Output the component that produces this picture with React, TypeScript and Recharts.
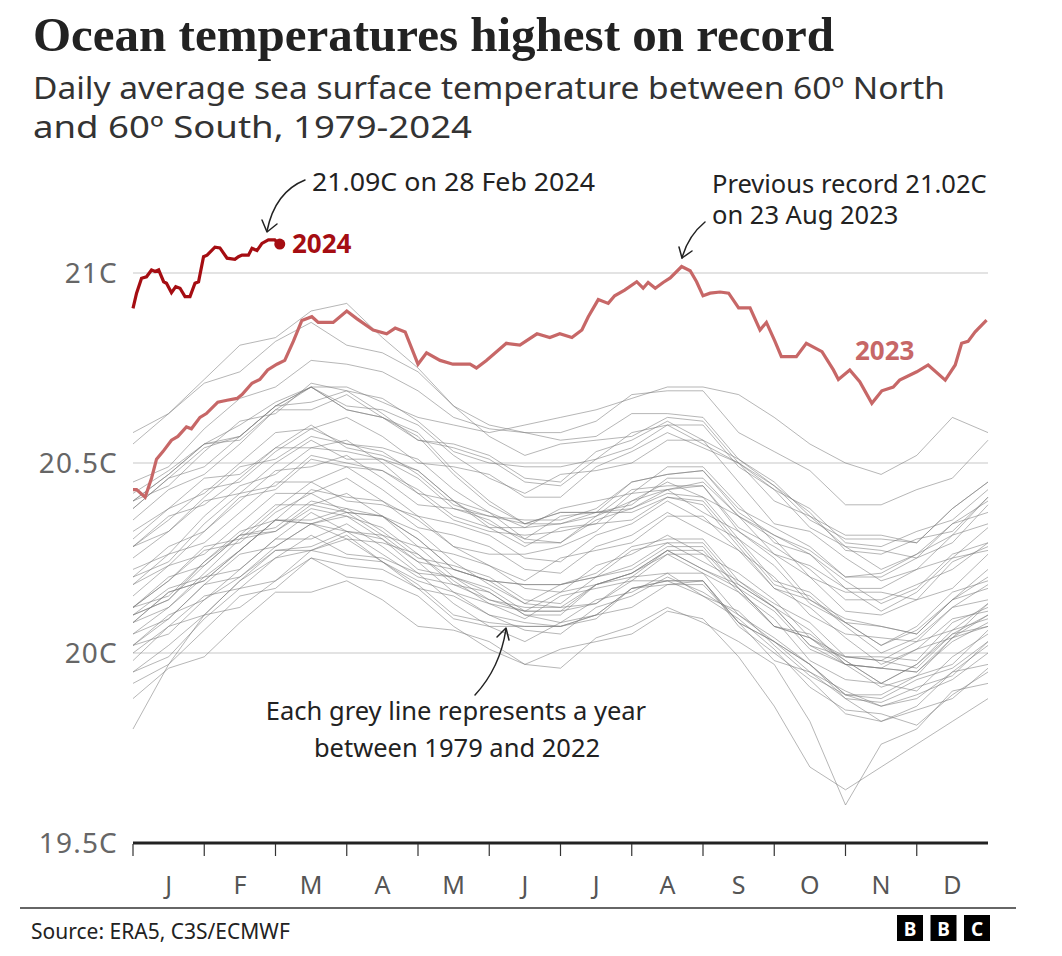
import { LineChart, Line, XAxis, YAxis, ReferenceLine, ReferenceDot } from "recharts";

const SANS = "'Noto Sans', sans-serif";
const SERIF = "'Liberation Serif', serif";

const MONTH_LABELS = ["J", "F", "M", "A", "M", "J", "J", "A", "S", "O", "N", "D"];
const Y_TICKS = [19.5, 20, 20.5, 21];
const GRID_VALUES = [20, 20.5, 21];
// tick lines sit on whole months, letters sit mid-month
const X_TICKS = [0, 0.5, 1, 1.5, 2, 2.5, 3, 3.5, 4, 4.5, 5, 5.5, 6, 6.5, 7, 7.5, 8, 8.5, 9, 9.5, 10, 10.5, 11, 11.5];

// grey years, sampled twice a month (position in months from 1 Jan)
const GREY_MONTHS = [0, 0.5, 1, 1.5, 2, 2.5, 3, 3.5, 4, 4.5, 5, 5.5, 6, 6.5, 7, 7.5, 8, 8.5, 9, 9.5, 10, 10.5, 11, 11.5, 12];
const Y1979 = [19.80, 19.97, 20.10, 20.19, 20.25, 20.27, 20.30, 20.24, 20.17, 20.15, 20.10, 20.06, 20.05, 20.12, 20.15, 20.20, 20.16, 20.10, 20.03, 19.95, 19.90, 19.86, 19.88, 19.95, 20.02];
const Y1980 = [20.02, 20.05, 20.14, 20.20, 20.27, 20.27, 20.31, 20.24, 20.19, 20.16, 20.10, 20.08, 20.07, 20.10, 20.17, 20.19, 20.15, 20.11, 20.02, 19.94, 19.89, 19.86, 19.89, 19.93, 20.00];
const Y1981 = [20.00, 20.07, 20.15, 20.17, 20.25, 20.31, 20.26, 20.25, 20.21, 20.13, 20.07, 20.03, 20.08, 20.10, 20.12, 20.18, 20.18, 20.08, 19.98, 19.95, 19.88, 19.82, 19.86, 19.95, 19.97];
const Y1982 = [19.98, 20.07, 20.10, 20.19, 20.27, 20.28, 20.32, 20.26, 20.20, 20.18, 20.16, 20.10, 20.10, 20.18, 20.21, 20.27, 20.22, 20.18, 20.12, 20.02, 19.99, 19.99, 19.98, 20.08, 20.12];
const Y1983 = [20.12, 20.15, 20.24, 20.31, 20.32, 20.38, 20.36, 20.33, 20.26, 20.18, 20.14, 20.12, 20.12, 20.13, 20.19, 20.19, 20.19, 20.07, 20.00, 19.93, 19.84, 19.82, 19.85, 19.88, 19.96];
const Y1984 = [19.95, 20.02, 20.10, 20.12, 20.19, 20.25, 20.20, 20.19, 20.15, 20.07, 20.01, 19.97, 20.01, 20.03, 20.05, 20.11, 20.09, 19.99, 19.86, 19.70, 19.64, 19.70, 19.76, 19.82, 19.88];
const Y1985 = [19.88, 19.96, 19.99, 20.08, 20.16, 20.16, 20.19, 20.14, 20.07, 20.06, 20.03, 19.97, 19.96, 20.04, 20.07, 20.12, 20.08, 20.03, 19.97, 19.82, 19.60, 19.76, 19.80, 19.90, 19.92];
const Y1986 = [19.92, 19.97, 20.06, 20.15, 20.17, 20.25, 20.23, 20.22, 20.17, 20.09, 20.07, 20.07, 20.07, 20.09, 20.17, 20.18, 20.19, 20.08, 20.03, 19.97, 19.89, 19.89, 19.94, 19.97, 20.06];
const Y1987 = [20.05, 20.12, 20.20, 20.22, 20.30, 20.37, 20.32, 20.31, 20.28, 20.20, 20.14, 20.11, 20.16, 20.18, 20.20, 20.27, 20.27, 20.17, 20.07, 20.05, 19.98, 19.92, 19.97, 20.06, 20.09];
const Y1988 = [20.10, 20.17, 20.20, 20.27, 20.35, 20.34, 20.36, 20.30, 20.22, 20.20, 20.16, 20.10, 20.08, 20.14, 20.16, 20.21, 20.15, 20.09, 20.01, 19.91, 19.85, 19.84, 19.81, 19.89, 19.95];
const Y1989 = [19.95, 19.99, 20.09, 20.17, 20.19, 20.27, 20.25, 20.24, 20.18, 20.10, 20.08, 20.07, 20.07, 20.10, 20.17, 20.19, 20.19, 20.08, 20.03, 19.97, 19.89, 19.88, 19.93, 19.96, 20.03];
const Y1990 = [20.02, 20.09, 20.18, 20.20, 20.28, 20.34, 20.30, 20.29, 20.26, 20.19, 20.13, 20.09, 20.15, 20.17, 20.19, 20.26, 20.26, 20.16, 20.07, 20.04, 19.98, 19.92, 19.97, 20.05, 20.07];
const Y1991 = [20.08, 20.16, 20.19, 20.27, 20.35, 20.34, 20.37, 20.31, 20.24, 20.22, 20.19, 20.13, 20.12, 20.18, 20.21, 20.26, 20.21, 20.16, 20.09, 19.98, 19.93, 19.92, 19.90, 19.99, 20.05];
const Y1992 = [20.05, 20.09, 20.18, 20.26, 20.28, 20.34, 20.32, 20.30, 20.24, 20.16, 20.13, 20.11, 20.11, 20.13, 20.20, 20.21, 20.21, 20.10, 20.04, 19.97, 19.88, 19.87, 19.91, 19.94, 20.03];
const Y1993 = [20.02, 20.10, 20.14, 20.22, 20.30, 20.30, 20.34, 20.28, 20.21, 20.20, 20.17, 20.11, 20.11, 20.18, 20.21, 20.27, 20.22, 20.17, 20.11, 20.01, 19.97, 19.96, 19.95, 20.03, 20.08];
const Y1994 = [20.08, 20.12, 20.21, 20.30, 20.32, 20.39, 20.37, 20.36, 20.30, 20.22, 20.19, 20.18, 20.18, 20.21, 20.28, 20.30, 20.30, 20.19, 20.13, 20.08, 19.99, 19.98, 20.03, 20.06, 20.13];
const Y1995 = [20.12, 20.19, 20.27, 20.29, 20.37, 20.42, 20.37, 20.36, 20.32, 20.24, 20.18, 20.13, 20.18, 20.20, 20.22, 20.28, 20.28, 20.17, 20.07, 20.04, 19.97, 19.91, 19.94, 20.04, 20.07];
const Y1996 = [20.08, 20.16, 20.19, 20.27, 20.35, 20.35, 20.38, 20.32, 20.25, 20.23, 20.20, 20.14, 20.13, 20.20, 20.23, 20.29, 20.24, 20.19, 20.12, 20.02, 19.97, 19.96, 19.95, 20.04, 20.10];
const Y1997 = [20.10, 20.14, 20.24, 20.32, 20.35, 20.43, 20.41, 20.40, 20.35, 20.28, 20.26, 20.26, 20.28, 20.32, 20.40, 20.43, 20.45, 20.36, 20.31, 20.27, 20.20, 20.21, 20.26, 20.31, 20.41];
const Y1998 = [20.40, 20.47, 20.55, 20.57, 20.65, 20.70, 20.64, 20.62, 20.58, 20.48, 20.40, 20.34, 20.37, 20.37, 20.37, 20.41, 20.39, 20.28, 20.17, 20.12, 20.04, 19.97, 20.01, 20.09, 20.11];
const Y1999 = [20.12, 20.20, 20.23, 20.31, 20.39, 20.39, 20.42, 20.36, 20.28, 20.26, 20.23, 20.17, 20.16, 20.23, 20.26, 20.31, 20.26, 20.21, 20.14, 20.04, 19.99, 19.98, 19.96, 20.05, 20.10];
const Y2000 = [20.10, 20.14, 20.23, 20.31, 20.33, 20.40, 20.38, 20.36, 20.30, 20.22, 20.19, 20.18, 20.18, 20.20, 20.27, 20.29, 20.29, 20.18, 20.12, 20.06, 19.97, 19.96, 20.01, 20.04, 20.13];
const Y2001 = [20.12, 20.19, 20.28, 20.30, 20.38, 20.45, 20.40, 20.39, 20.36, 20.28, 20.23, 20.19, 20.25, 20.27, 20.29, 20.36, 20.36, 20.27, 20.17, 20.14, 20.08, 20.02, 20.07, 20.16, 20.19];
const Y2002 = [20.20, 20.28, 20.32, 20.40, 20.48, 20.49, 20.52, 20.46, 20.39, 20.38, 20.35, 20.29, 20.29, 20.36, 20.40, 20.45, 20.41, 20.36, 20.30, 20.20, 20.16, 20.16, 20.14, 20.24, 20.28];
const Y2003 = [20.28, 20.32, 20.41, 20.49, 20.51, 20.57, 20.55, 20.53, 20.47, 20.39, 20.36, 20.34, 20.34, 20.36, 20.43, 20.44, 20.44, 20.32, 20.26, 20.20, 20.11, 20.10, 20.14, 20.17, 20.26];
const Y2004 = [20.25, 20.32, 20.40, 20.42, 20.50, 20.56, 20.51, 20.51, 20.48, 20.40, 20.34, 20.30, 20.36, 20.37, 20.39, 20.46, 20.46, 20.36, 20.26, 20.23, 20.17, 20.11, 20.16, 20.25, 20.27];
const Y2005 = [20.28, 20.36, 20.39, 20.46, 20.54, 20.54, 20.56, 20.50, 20.42, 20.40, 20.37, 20.30, 20.29, 20.35, 20.38, 20.43, 20.37, 20.32, 20.25, 20.14, 20.09, 20.07, 20.05, 20.14, 20.22];
const Y2006 = [20.22, 20.26, 20.36, 20.44, 20.47, 20.54, 20.53, 20.51, 20.46, 20.38, 20.36, 20.35, 20.35, 20.38, 20.45, 20.47, 20.48, 20.37, 20.31, 20.26, 20.17, 20.17, 20.22, 20.25, 20.33];
const Y2007 = [20.32, 20.38, 20.46, 20.47, 20.54, 20.60, 20.54, 20.52, 20.48, 20.40, 20.33, 20.28, 20.33, 20.34, 20.35, 20.41, 20.40, 20.29, 20.18, 20.15, 20.07, 20.00, 20.04, 20.12, 20.14];
const Y2008 = [20.15, 20.23, 20.26, 20.34, 20.42, 20.42, 20.46, 20.40, 20.33, 20.31, 20.28, 20.22, 20.21, 20.28, 20.31, 20.37, 20.32, 20.27, 20.20, 20.10, 20.05, 20.04, 20.03, 20.12, 20.18];
const Y2009 = [20.18, 20.23, 20.32, 20.41, 20.43, 20.51, 20.49, 20.48, 20.43, 20.36, 20.33, 20.33, 20.34, 20.37, 20.45, 20.47, 20.48, 20.38, 20.33, 20.28, 20.20, 20.20, 20.25, 20.29, 20.39];
const Y2010 = [20.38, 20.46, 20.54, 20.57, 20.65, 20.70, 20.64, 20.62, 20.57, 20.47, 20.39, 20.34, 20.37, 20.37, 20.38, 20.42, 20.41, 20.30, 20.19, 20.16, 20.08, 20.02, 20.06, 20.14, 20.17];
const Y2011 = [20.18, 20.26, 20.29, 20.37, 20.45, 20.45, 20.49, 20.43, 20.36, 20.34, 20.31, 20.25, 20.24, 20.31, 20.34, 20.40, 20.35, 20.30, 20.23, 20.13, 20.08, 20.07, 20.05, 20.14, 20.20];
const Y2012 = [20.20, 20.24, 20.34, 20.42, 20.44, 20.52, 20.50, 20.48, 20.42, 20.35, 20.32, 20.31, 20.32, 20.34, 20.42, 20.43, 20.44, 20.33, 20.28, 20.22, 20.14, 20.14, 20.18, 20.22, 20.29];
const Y2013 = [20.28, 20.35, 20.43, 20.45, 20.53, 20.59, 20.55, 20.54, 20.51, 20.43, 20.37, 20.33, 20.38, 20.40, 20.42, 20.49, 20.49, 20.39, 20.29, 20.26, 20.19, 20.13, 20.17, 20.26, 20.29];
const Y2014 = [20.30, 20.38, 20.42, 20.50, 20.58, 20.59, 20.62, 20.57, 20.50, 20.49, 20.47, 20.41, 20.41, 20.49, 20.53, 20.58, 20.54, 20.50, 20.44, 20.35, 20.30, 20.30, 20.29, 20.38, 20.45];
const Y2015 = [20.42, 20.48, 20.55, 20.60, 20.66, 20.70, 20.70, 20.66, 20.62, 20.60, 20.58, 20.60, 20.62, 20.64, 20.67, 20.70, 20.70, 20.68, 20.62, 20.55, 20.50, 20.47, 20.52, 20.62, 20.58];
const Y2016 = [20.58, 20.63, 20.72, 20.81, 20.83, 20.90, 20.92, 20.83, 20.75, 20.65, 20.60, 20.58, 20.56, 20.57, 20.63, 20.63, 20.62, 20.51, 20.44, 20.37, 20.27, 20.26, 20.30, 20.32, 20.41];
const Y2017 = [20.40, 20.47, 20.55, 20.56, 20.64, 20.70, 20.65, 20.64, 20.60, 20.52, 20.46, 20.42, 20.47, 20.48, 20.50, 20.56, 20.56, 20.45, 20.34, 20.32, 20.25, 20.19, 20.22, 20.31, 20.34];
const Y2018 = [20.35, 20.43, 20.47, 20.55, 20.64, 20.64, 20.68, 20.62, 20.56, 20.55, 20.52, 20.46, 20.45, 20.53, 20.56, 20.61, 20.56, 20.51, 20.45, 20.36, 20.31, 20.31, 20.29, 20.38, 20.45];
const Y2019 = [20.45, 20.49, 20.59, 20.67, 20.70, 20.77, 20.76, 20.74, 20.69, 20.62, 20.59, 20.58, 20.58, 20.61, 20.68, 20.69, 20.69, 20.58, 20.53, 20.48, 20.39, 20.39, 20.43, 20.46, 20.56];
const Y2020 = [20.55, 20.63, 20.71, 20.74, 20.82, 20.87, 20.81, 20.79, 20.74, 20.65, 20.57, 20.52, 20.55, 20.56, 20.57, 20.62, 20.61, 20.50, 20.40, 20.36, 20.28, 20.22, 20.26, 20.34, 20.37];
const Y2021 = [20.38, 20.46, 20.49, 20.57, 20.65, 20.66, 20.69, 20.63, 20.56, 20.54, 20.51, 20.45, 20.44, 20.51, 20.54, 20.60, 20.55, 20.50, 20.43, 20.33, 20.28, 20.27, 20.25, 20.34, 20.40];
const Y2022 = [20.40, 20.44, 20.53, 20.61, 20.63, 20.71, 20.69, 20.67, 20.61, 20.53, 20.50, 20.49, 20.49, 20.51, 20.58, 20.60, 20.60, 20.49, 20.43, 20.38, 20.29, 20.28, 20.32, 20.35, 20.43];

const GREY_SERIES = [
  Y1979, Y1980, Y1981, Y1982, Y1983, Y1984, Y1985, Y1986, Y1987, Y1988, Y1989,
  Y1990, Y1991, Y1992, Y1993, Y1994, Y1995, Y1996, Y1997, Y1998, Y1999,
  Y2000, Y2001, Y2002, Y2003, Y2004, Y2005, Y2006, Y2007, Y2008, Y2009,
  Y2010, Y2011, Y2012, Y2013, Y2014, Y2015, Y2016, Y2017, Y2018, Y2019,
  Y2020, Y2021, Y2022,
];

const MONTHS_2023 = [0, 0.05, 0.17, 0.26, 0.33, 0.42, 0.54, 0.63, 0.75, 0.82, 0.94, 1.03, 1.19, 1.32, 1.46, 1.53, 1.67, 1.78, 1.89, 2.02, 2.13, 2.25, 2.37, 2.51, 2.6, 2.81, 3.0, 3.14, 3.37, 3.56, 3.68, 3.82, 4.0, 4.12, 4.31, 4.49, 4.73, 4.82, 4.96, 5.24, 5.43, 5.67, 5.85, 5.99, 6.16, 6.3, 6.39, 6.53, 6.67, 6.76, 6.9, 7.07, 7.16, 7.23, 7.33, 7.44, 7.54, 7.7, 7.82, 7.91, 8.0, 8.1, 8.24, 8.36, 8.5, 8.66, 8.8, 8.89, 9.01, 9.1, 9.31, 9.45, 9.67, 9.83, 9.9, 10.06, 10.2, 10.37, 10.51, 10.67, 10.76, 11.0, 11.16, 11.4, 11.54, 11.63, 11.72, 11.82, 11.98];
const TEMPS_2023 = [20.43, 20.43, 20.41, 20.46, 20.51, 20.53, 20.56, 20.57, 20.595, 20.59, 20.62, 20.63, 20.66, 20.665, 20.67, 20.68, 20.71, 20.72, 20.745, 20.76, 20.77, 20.82, 20.875, 20.885, 20.87, 20.87, 20.9, 20.88, 20.85, 20.84, 20.855, 20.845, 20.76, 20.79, 20.77, 20.76, 20.76, 20.75, 20.77, 20.815, 20.81, 20.84, 20.83, 20.84, 20.83, 20.85, 20.885, 20.93, 20.92, 20.94, 20.955, 20.977, 20.96, 20.975, 20.96, 20.975, 20.987, 21.017, 21.006, 20.977, 20.94, 20.947, 20.95, 20.947, 20.908, 20.908, 20.85, 20.87, 20.82, 20.78, 20.78, 20.815, 20.793, 20.745, 20.72, 20.745, 20.714, 20.657, 20.69, 20.7, 20.718, 20.74, 20.758, 20.718, 20.758, 20.815, 20.82, 20.845, 20.876];

const MONTHS_2024 = [0, 0.05, 0.12, 0.19, 0.26, 0.31, 0.36, 0.43, 0.47, 0.54, 0.6, 0.66, 0.73, 0.8, 0.87, 0.92, 0.99, 1.04, 1.15, 1.22, 1.32, 1.43, 1.48, 1.53, 1.62, 1.67, 1.74, 1.81, 1.9, 1.99, 2.06];
const TEMPS_2024 = [20.907, 20.947, 20.986, 20.99, 21.008, 21.004, 21.008, 20.977, 20.973, 20.948, 20.964, 20.96, 20.938, 20.938, 20.973, 20.977, 21.043, 21.047, 21.068, 21.066, 21.039, 21.036, 21.043, 21.047, 21.047, 21.065, 21.059, 21.078, 21.087, 21.087, 21.076];

const COLOR_2024 = "#a50d12";
const COLOR_2023 = "#c76767";

function toRows(ms: number[], vs: number[]) {
  return ms.map((m, i) => ({ m, v: vs[i] }));
}

function MonthTick(props: any) {
  const { x, y, payload } = props;
  const v = payload.value as number;
  if (Number.isInteger(v)) {
    return <line x1={x} x2={x} y1={y + 1} y2={y + 13} stroke="#333" strokeWidth={1.2} />;
  }
  return (
    <text x={x} y={y + 51} textAnchor="middle" fontFamily={SANS} fontSize={25} fill="#555">
      {MONTH_LABELS[Math.floor(v)]}
    </text>
  );
}

function TempTick(props: any) {
  const { x, y, payload } = props;
  return (
    <text x={x + 1} y={y} dy="0.36em" textAnchor="end" fontFamily={SANS} fontSize={28} letterSpacing={1.2} fill="#666">
      {`${payload.value}C`}
    </text>
  );
}

function Annotations() {
  return (
    <svg width={1062} height={956} style={{ position: "absolute", left: 0, top: 0, pointerEvents: "none" }}>
      <text x={33} y={51} fontFamily={SERIF} fontWeight="bold" fontSize={49} fill="#222">
        Ocean temperatures highest on record
      </text>
      <text x={33} y={99} fontFamily={SANS} fontSize={31} fill="#333" textLength={912} lengthAdjust="spacingAndGlyphs">
        Daily average sea surface temperature between 60º North
      </text>
      <text x={33} y={138} fontFamily={SANS} fontSize={31} fill="#333" textLength={439} lengthAdjust="spacingAndGlyphs">
        and 60º South, 1979-2024
      </text>

      <g fontFamily={SANS} fontSize={25.5} fill="#222">
        <text x={312} y={191} textLength={283} lengthAdjust="spacingAndGlyphs">21.09C on 28 Feb 2024</text>
        <text x={712} y={193}>Previous record 21.02C</text>
        <text x={712} y={224}>on 23 Aug 2023</text>
        <text x={456} y={720} textAnchor="middle">Each grey line represents a year</text>
        <text x={457} y={757} textAnchor="middle">between 1979 and 2022</text>
      </g>
      <text x={292} y={253} fontFamily={SANS} fontWeight="bold" fontSize={26} fill={COLOR_2024}>2024</text>
      <text x={855} y={360} fontFamily={SANS} fontWeight="bold" fontSize={26} fill={COLOR_2023}>2023</text>

      <g fill="none" stroke="#222" strokeWidth={1.5} strokeLinecap="round" strokeLinejoin="round">
        <path d="M 305 180 Q 275 192 267 231" />
        <path d="M 262 220 L 267 232 L 277 224" />
        <path d="M 705 222 Q 688 236 682 258" />
        <path d="M 679 247 L 682 258 L 692 251" />
        <path d="M 475 695 Q 500 668 506 629" />
        <path d="M 497 637 L 506 628 L 509 640" />
      </g>

      <line x1={20} x2={1016} y1={908} y2={908} stroke="#333" strokeWidth={1.5} />
      <text x={31} y={939} fontFamily={SANS} fontSize={21} fill="#222">Source: ERA5, C3S/ECMWF</text>
      {["B", "B", "C"].map((ch, i) => (
        <g key={i}>
          <rect x={897 + i * 33.5} y={915} width={26} height={26} fill="#000" />
          <text x={910 + i * 33.5} y={935.5} textAnchor="middle" fontFamily={SANS} fontWeight="bold" fontSize={19} fill="#fff">
            {ch}
          </text>
        </g>
      ))}
    </svg>
  );
}

export default function App() {
  return (
    <div style={{ position: "absolute", left: 0, top: 0, width: 1062, height: 956, background: "#fff" }}>
      <div style={{ position: "absolute", left: 0, top: 0 }}>
        <LineChart width={1062} height={956} margin={{ top: 159, right: 74, bottom: 53, left: 0 }}>
          <XAxis
            type="number"
            dataKey="m"
            domain={[0, 12]}
            ticks={X_TICKS}
            interval={0}
            height={60}
            tickSize={0}
            tickMargin={0}
            tickLine={false}
            axisLine={{ stroke: "#222", strokeWidth: 3 }}
            tick={(p: any) => <MonthTick {...p} />}
          />
          <YAxis
            type="number"
            domain={[19.5, 21.3]}
            ticks={Y_TICKS}
            interval={0}
            width={133}
            axisLine={false}
            tickLine={false}
            tickSize={6}
            tickMargin={10}
            tick={(p: any) => <TempTick {...p} />}
          />
          {GRID_VALUES.map((g) => (
            <ReferenceLine key={g} y={g} stroke="#c8c8c8" strokeWidth={1.2} />
          ))}
          {GREY_SERIES.map((s, i) => (
            <Line
              key={i}
              data={toRows(GREY_MONTHS, s)}
              dataKey="v"
              type="linear"
              stroke="#7a7a7a"
              strokeOpacity={0.55}
              strokeWidth={1}
              dot={false}
              isAnimationActive={false}
            />
          ))}
          <Line data={toRows(MONTHS_2023, TEMPS_2023)} dataKey="v" type="linear" stroke={COLOR_2023} strokeWidth={3.2} dot={false} isAnimationActive={false} />
          <Line data={toRows(MONTHS_2024, TEMPS_2024)} dataKey="v" type="linear" stroke={COLOR_2024} strokeWidth={3.2} dot={false} isAnimationActive={false} />
          <ReferenceDot
            x={MONTHS_2024[MONTHS_2024.length - 1]}
            y={TEMPS_2024[TEMPS_2024.length - 1]}
            r={5.5}
            fill={COLOR_2024}
            stroke="none"
          />
        </LineChart>
      </div>
      <Annotations />
    </div>
  );
}
